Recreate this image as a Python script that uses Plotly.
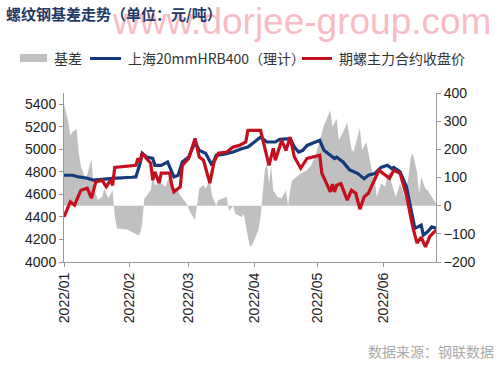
import plotly.graph_objects as go

# ---------------- data ----------------
basis_dates = ["2022-01-01","2022-01-02","2022-01-03","2022-01-04","2022-01-05","2022-01-07","2022-01-08","2022-01-09",
               "2022-01-11","2022-01-12","2022-01-14","2022-01-15","2022-01-17","2022-01-19","2022-01-20","2022-01-22",
               "2022-01-24","2022-01-25","2022-01-26","2022-01-31","2022-02-05","2022-02-06","2022-02-07","2022-02-08",
               "2022-02-10","2022-02-11","2022-02-12","2022-02-13","2022-02-16","2022-02-18","2022-02-20","2022-02-21",
               "2022-02-23","2022-02-25","2022-02-28","2022-03-02","2022-03-04","2022-03-05","2022-03-06","2022-03-08",
               "2022-03-09","2022-03-11","2022-03-12","2022-03-14","2022-03-15","2022-03-19","2022-03-20","2022-03-22",
               "2022-03-23","2022-03-26","2022-03-27","2022-03-29","2022-03-30","2022-03-31","2022-04-03","2022-04-04",
               "2022-04-05","2022-04-06","2022-04-07","2022-04-08","2022-04-09","2022-04-10","2022-04-12","2022-04-14",
               "2022-04-16","2022-04-17","2022-04-18","2022-04-19","2022-04-22","2022-04-23","2022-04-26","2022-04-28",
               "2022-04-30","2022-05-02","2022-05-04","2022-05-07","2022-05-08","2022-05-10","2022-05-11","2022-05-13",
               "2022-05-15","2022-05-17","2022-05-18","2022-05-21","2022-05-22","2022-05-24","2022-05-26","2022-05-27",
               "2022-05-28","2022-05-29","2022-05-31","2022-06-02","2022-06-03","2022-06-04","2022-06-05","2022-06-06",
               "2022-06-07","2022-06-09","2022-06-10","2022-06-11","2022-06-13","2022-06-14","2022-06-15","2022-06-17",
               "2022-06-18","2022-06-19","2022-06-21","2022-06-22","2022-06-23","2022-06-24","2022-06-25","2022-06-26"]
basis_values = [360,330,300,250,262,272,185,140,
                100,110,167,67,20,31,61,26,
                55,-34,-80,-85,-105,-100,-63,25,
                43,55,102,73,80,67,110,49,
                67,37,8,-28,-51,0,61,73,
                60,90,37,0,20,31,-20,0,
                -28,-40,-30,-110,-146,-140,-87,-40,
                40,126,150,79,138,55,31,26,
                55,0,55,90,108,114,126,144,
                179,232,285,339,280,309,232,260,
                295,200,191,276,197,226,150,114,
                90,31,79,67,108,120,80,55,
                31,79,60,31,102,170,185,120,
                43,102,60,55,43,30,20,8]

spot_dates = ["2022-01-01","2022-01-05","2022-01-08","2022-01-12","2022-01-15","2022-01-19","2022-01-24","2022-02-02",
              "2022-02-04","2022-02-06","2022-02-07","2022-02-09","2022-02-12","2022-02-13","2022-02-16","2022-02-19",
              "2022-02-20","2022-02-22","2022-02-24","2022-02-26","2022-03-01","2022-03-04","2022-03-06","2022-03-09",
              "2022-03-12","2022-03-14","2022-03-19","2022-03-22","2022-03-26","2022-03-29","2022-03-30","2022-04-04",
              "2022-04-07","2022-04-11","2022-04-13","2022-04-16","2022-04-18","2022-04-20","2022-04-22","2022-04-24",
              "2022-04-26","2022-04-30","2022-05-02","2022-05-04","2022-05-07","2022-05-09","2022-05-10","2022-05-13",
              "2022-05-16","2022-05-20","2022-05-23","2022-05-25","2022-05-28","2022-05-31","2022-06-03","2022-06-05",
              "2022-06-06","2022-06-09","2022-06-12","2022-06-14","2022-06-16","2022-06-19","2022-06-20","2022-06-22",
              "2022-06-24","2022-06-26"]
spot_values = [4770,4770,4755,4743,4726,4735,4743,4752,
               4755,4876,4965,4932,4920,4858,4858,4888,
               4844,4755,4770,4888,4932,5065,4991,4965,
               4858,4947,4962,4976,5006,5020,5035,5109,
               5065,5065,5088,5094,5094,5020,4976,4991,
               5035,5065,5080,4991,4947,4918,4930,4888,
               4820,4785,4740,4770,4785,4840,4858,4829,
               4840,4800,4667,4475,4298,4327,4239,4268,
               4312,4300]

fut_dates = ["2022-01-01","2022-01-04","2022-01-06","2022-01-09","2022-01-12","2022-01-14","2022-01-16","2022-01-19",
             "2022-01-21","2022-01-23","2022-01-24","2022-01-25","2022-02-04","2022-02-05","2022-02-06","2022-02-07",
             "2022-02-09","2022-02-11","2022-02-12","2022-02-13","2022-02-15","2022-02-16","2022-02-20","2022-02-21",
             "2022-02-22","2022-02-25","2022-02-26","2022-03-01","2022-03-04","2022-03-06","2022-03-08","2022-03-11",
             "2022-03-13","2022-03-15","2022-03-19","2022-03-22","2022-03-25","2022-03-28","2022-03-29","2022-04-04",
             "2022-04-08","2022-04-10","2022-04-11","2022-04-14","2022-04-16","2022-04-18","2022-04-20","2022-04-23",
             "2022-04-26","2022-05-02","2022-05-03","2022-05-07","2022-05-08","2022-05-09","2022-05-10","2022-05-12",
             "2022-05-15","2022-05-17","2022-05-19","2022-05-21","2022-05-23","2022-05-25","2022-05-30","2022-06-04",
             "2022-06-06","2022-06-09","2022-06-12","2022-06-15","2022-06-17","2022-06-19","2022-06-21","2022-06-23",
             "2022-06-26"]
fut_values = [4400,4534,4504,4637,4655,4566,4710,4726,
              4667,4726,4681,4840,4858,4920,4890,4965,
              4918,4876,4726,4800,4700,4788,4788,4681,
              4622,4667,4858,4920,5097,4932,4903,4700,
              4888,4965,4976,5020,5035,5065,5168,5168,
              4858,5009,4903,5080,4990,5109,4932,4832,
              4920,4947,4788,4622,4690,4622,4681,4696,
              4549,4637,4610,4469,4578,4610,4814,4743,
              4814,4788,4593,4312,4168,4220,4135,4224,
              4283]

month_ticks = ["2022-01-01","2022-02-01","2022-03-01","2022-04-01","2022-05-01","2022-06-01"]
month_labels = ["2022/01","2022/02","2022/03","2022/04","2022/05","2022/06"]

names = ["基差", "上海20mmHRB400（理计）", "期螺主力合约收盘价"]
title_text = "螺纹钢基差走势（单位：元/吨）"
source_text = "数据来源：钢联数据"
watermark_text = "www.dorjee-group.com"

# ---------------- layout geometry (pixels) ----------------
W, H = 500, 370
L, R, T, B = 64, 64, 93, 108
PW, PH = W - L - R, H - T - B


def px(x):
    return (x - L) / PW


def py(y):
    return (H - B - y) / PH


GRAY = "#c0c0c0"
BLUE = "#123a7c"
RED = "#c40f1c"

fig = go.Figure()
fig.add_trace(go.Scatter(x=basis_dates, y=basis_values, name=names[0], mode="lines",
                         line=dict(width=0, color=GRAY), fill="tozeroy", fillcolor=GRAY,
                         xaxis="x", yaxis="y", showlegend=False))
fig.add_trace(go.Scatter(x=spot_dates, y=spot_values, name=names[1], mode="lines",
                         line=dict(width=3.2, color=BLUE), xaxis="x", yaxis="y2", showlegend=False))
fig.add_trace(go.Scatter(x=fut_dates, y=fut_values, name=names[2], mode="lines",
                         line=dict(width=3.2, color=RED), xaxis="x", yaxis="y2", showlegend=False))

axis_font = dict(family="Liberation Sans, Arial, sans-serif", size=14, color="#222222")

fig.update_layout(
    width=W, height=H,
    margin=dict(l=L, r=R, t=T, b=B, pad=0),
    paper_bgcolor="white", plot_bgcolor="white",
    showlegend=False,
    xaxis=dict(type="date", range=["2022-01-01", "2022-06-26"], tickvals=month_ticks, ticktext=month_labels,
               tickangle=-90, ticks="outside", ticklen=4, tickcolor="#999999", showline=True,
               linecolor="#999999", linewidth=1, showgrid=False, zeroline=False, tickfont=axis_font),
    yaxis=dict(side="right", range=[-200, 400], dtick=100, ticks="outside", ticklen=4, tickcolor="#999999",
               showline=True, linecolor="#999999", showgrid=False, zeroline=False, tickfont=axis_font,
               tickformat="d"),
    yaxis2=dict(side="left", overlaying="y", range=[4000, 5500], tickvals=[4000, 4200, 4400, 4600, 4800, 5000, 5200, 5400],
                ticks="outside", ticklen=4, tickcolor="#999999", showline=True, linecolor="#999999",
                showgrid=False, zeroline=False, tickfont=axis_font),
)

cjk = "Noto Sans CJK SC, sans-serif"
annotations = [
    dict(text=watermark_text, x=px(110), y=py(21), xanchor="left", yanchor="middle",
         font=dict(family="Liberation Sans, Arial, sans-serif", size=37, color="rgba(240,130,145,0.55)")),
    dict(text="<b>" + title_text + "</b>", x=px(4), y=py(13), xanchor="left", yanchor="middle",
         font=dict(family=cjk, size=15, color="#1f3a66")),
    dict(text=names[0], x=px(52), y=py(58), xanchor="left", yanchor="middle",
         font=dict(family=cjk, size=14, color="#333333")),
    dict(text=names[1], x=px(126), y=py(58), xanchor="left", yanchor="middle",
         font=dict(family=cjk, size=14, color="#333333")),
    dict(text=names[2], x=px(337), y=py(58), xanchor="left", yanchor="middle",
         font=dict(family=cjk, size=14, color="#333333")),
    dict(text=source_text, x=px(496), y=py(351), xanchor="right", yanchor="middle",
         font=dict(family=cjk, size=14, color="#aaaaaa")),
]
for a in annotations:
    a.update(xref="paper", yref="paper", showarrow=False)
fig.update_layout(annotations=annotations)

shapes = [
    dict(type="rect", x0=px(20), x1=px(47), y0=py(62), y1=py(54), fillcolor=GRAY, line=dict(width=0)),
    dict(type="line", x0=px(90), x1=px(121), y0=py(58.5), y1=py(58.5), line=dict(color=BLUE, width=3)),
    dict(type="line", x0=px(302), x1=px(332), y0=py(58.5), y1=py(58.5), line=dict(color=RED, width=3)),
]
for s in shapes:
    s.update(xref="paper", yref="paper")
fig.update_layout(shapes=shapes)

fig.write_html("out.html", config={"displayModeBar": False},
               post_script="document.body.style.margin='0';document.body.style.padding='0';")
